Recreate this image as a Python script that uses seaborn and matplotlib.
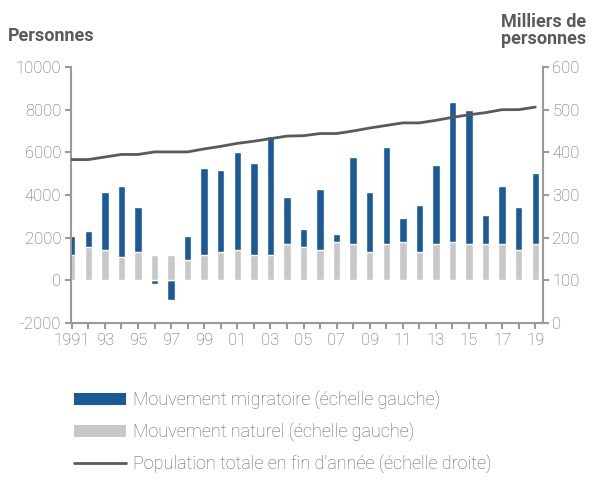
import numpy as np
import matplotlib
matplotlib.use('Agg')
import matplotlib.pyplot as plt
import seaborn as sns
from matplotlib.patches import Patch
from matplotlib.lines import Line2D

# data
years = list(range(1991, 2020))
natural = [1200, 1560, 1440, 1080, 1315, 1200, 1200, 940, 1200, 1315,
           1440, 1200, 1200, 1705, 1560, 1440, 1815, 1705, 1315, 1705,
           1815, 1315, 1705, 1815, 1705, 1705, 1705, 1440, 1705]
migration = [900, 740, 2710, 3330, 2115, -160, -900, 1125, 4075, 3835,
             4570, 4310, 5560, 2205, 865, 2850, 375, 4055, 2845, 4555,
             1110, 2220, 3680, 6525, 6275, 1345, 2695, 1990, 3315]
population = [383, 383, 389, 395, 395, 401, 401, 401, 408, 414,
              421, 426, 432, 438, 439, 444, 444, 450, 457, 463,
              469, 469, 475, 482, 488, 493, 500, 500, 506]
tick_labels = ['1991', '93', '95', '97', '99', '01', '03', '05', '07', '09',
               '11', '13', '15', '17', '19']

BLUE = '#1a5a96'
GREY = '#c8c8c8'
LINE = '#5a5a5a'
AXC = '#9a9a9a'
TXT = '#606060'

sns.set_theme(style='white')
plt.rcParams['font.family'] = ['Roboto', 'DejaVu Sans']
plt.rcParams['axes.unicode_minus'] = False

# blue bar drawn to the top of the stack, grey natural part drawn over it
mig_top = [n + m if m > 0 else m for n, m in zip(natural, migration)]

fig = plt.figure(figsize=(5.96, 4.83), dpi=100)
ax = fig.add_axes([0.119, 0.3313, 0.7916, 0.53])

sns.barplot(x=years, y=mig_top, native_scale=True, orient='x', width=0.45,
            color=BLUE, saturation=1, errorbar=None, ax=ax)
sns.barplot(x=years, y=natural, native_scale=True, orient='x', width=0.45,
            color=GREY, saturation=1, errorbar=None, ax=ax)

ax.set_ylim(-2000, 10000)
ax.set_yticks(range(-2000, 10001, 2000))
ax.set_xlim(1990.95, 2019.45)
ax.set_xticks(years)
ax.set_xticklabels([tick_labels[i // 2] if i % 2 == 0 else ''
                    for i in range(len(years))])

ax2 = ax.twinx()
sns.lineplot(x=years, y=population, color=LINE, linewidth=2, ax=ax2)
ax2.set_ylim(0, 600)
ax2.set_yticks(range(0, 601, 100))
ax2.set_xlim(1990.95, 2019.45)

for a in (ax, ax2):
    for s in a.spines.values():
        s.set_visible(False)
    a.set_xlabel('')
    a.set_ylabel('')
ax.spines['left'].set_visible(True)
ax.spines['bottom'].set_visible(True)
ax2.spines['right'].set_visible(True)
for s in (ax.spines['left'], ax.spines['bottom'], ax2.spines['right']):
    s.set_color(AXC)
    s.set_linewidth(1.5)

ax.tick_params(axis='both', which='both', direction='out', length=4, width=1.5,
               color=AXC, labelcolor=TXT, labelsize=12, pad=3, left=True, bottom=True)
ax2.tick_params(axis='y', direction='out', length=4, width=1.5, color=AXC,
                labelcolor=TXT, labelsize=12, pad=3, right=True)
for t in ax.get_xticklabels() + ax.get_yticklabels() + ax2.get_yticklabels():
    t.set_fontweight('light')

fig.text(0.013, 0.925, 'Personnes', fontsize=13, fontweight='bold',
         color='#5a5a5a', ha='left', va='center')
fig.text(0.984, 0.937, 'Milliers de\npersonnes', fontsize=13, fontweight='bold',
         color='#5a5a5a', ha='right', va='center', linespacing=0.95)

handles = [Patch(facecolor=BLUE, edgecolor='none'),
           Patch(facecolor=GREY, edgecolor='none'),
           Line2D([0], [0], color=LINE, linewidth=2)]
labels = ['Mouvement migratoire (échelle gauche)',
          'Mouvement naturel (échelle gauche)',
          "Population totale en fin d'année (échelle droite)"]
leg = fig.legend(handles, labels, loc='upper left', bbox_to_anchor=(0.112, 0.207),
                 frameon=False, fontsize=13, handlelength=2.9, handleheight=0.65,
                 handletextpad=0.35, labelspacing=0.72, borderaxespad=0)
for t in leg.get_texts():
    t.set_color(TXT)
    t.set_fontweight('light')

fig.savefig('out.png', dpi=100)
